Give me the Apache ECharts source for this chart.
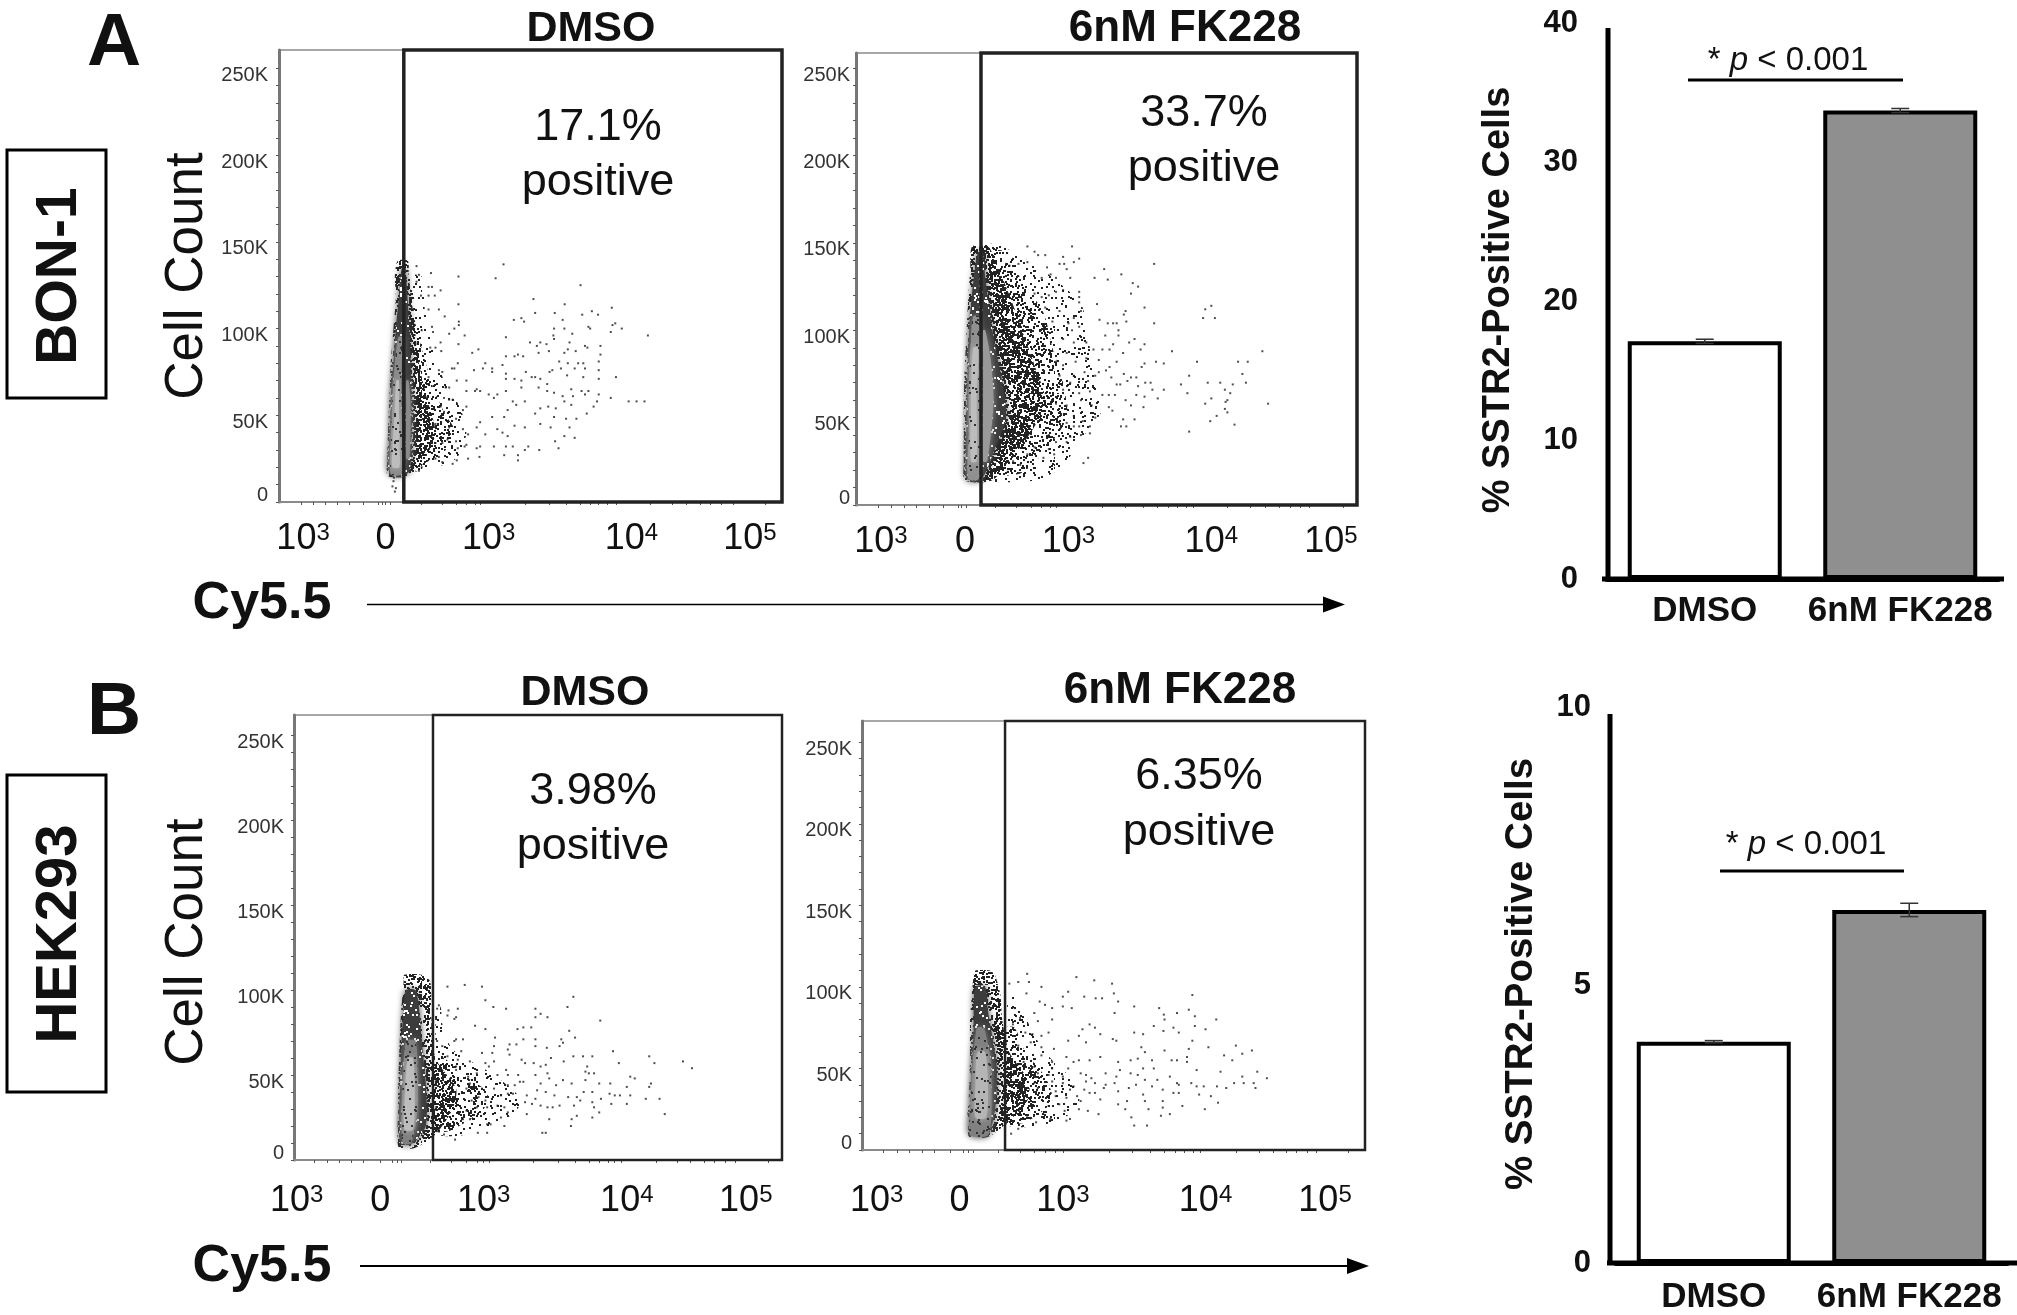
<!DOCTYPE html>
<html><head><meta charset="utf-8">
<style>html,body{margin:0;padding:0;background:#fff}#c{width:2017px;height:1315px}</style>
<script src="https://cdn.jsdelivr.net/npm/echarts@6/dist/echarts.min.js"></script>
</head><body><div id="c"></div>
<script>
// ---- bar chart values
const barCategories = ['DMSO', '6nM FK228'];
const barFills = ['#ffffff', '#8f8f8f'];
const bon1Means = [17.1, 33.7];
const bon1Errors = [0.15, 0.15];
const hek293Means = [3.98, 6.35];
const hek293Errors = [0.02, 0.12];
// ---- flow plot tick labels (count axis in thousands; Cy5.5 axis in biexponential channels)
const countMajor = [0, 50, 100, 150, 200, 250];
const countTicks = [0,10,20,30,40,50,60,70,80,90,100,110,120,130,140,150,160,170,180,190,200,210,220,230,240,250];
const cy55Labels = ['{b|10}{s|3}', '{b|0}', '{b|10}{s|3}', '{b|10}{s|4}', '{b|10}{s|5}'];
// ---- Cy5.5 scale of each plot: channel limits, gate, ticks, label anchors
const limA1 = [55, 1518], gateA1 = 418, topA1 = 260.6;
const limA2 = [100, 1503], gateA2 = 450, topA2 = 258.7;
const limB1 = [100, 1515], gateB1 = 503, topB1 = 261.8;
const limB2 = [117, 1527], gateB2 = 518, topB2 = 263;
const ticksA1 = [120,155,190,225,260,300,345,355,365,380,470,530,570,600,625,640,770,840,890,930,960,985,1010,1035,1135,1200,1240,1280,1310,1340,1375,1470];
const ticksA2 = [162,200,235,270,305,345,385,395,410,490,550,590,620,645,660,790,855,905,945,975,1000,1025,1045,1140,1205,1245,1285,1315,1345,1370,1465];
const ticksB1 = [160,195,230,265,300,350,385,400,410,495,555,600,630,650,665,795,865,915,955,985,1010,1030,1050,1150,1210,1250,1290,1320,1350,1380,1475];
const ticksB2 = [177,215,250,285,320,365,400,415,430,500,560,600,630,660,680,810,875,925,965,995,1020,1045,1065,1165,1230,1270,1305,1335,1365,1390,1480];
const labelPosA1 = [125, 365, 665, 1080, 1425];
const labelPosA2 = [170, 405, 695, 1095, 1430];
const labelPosB1 = [108, 350, 650, 1065, 1410];
const labelPosB2 = [158, 390, 680, 1080, 1415];

// ---- individually visible events [channel, count K]
const pointsA1 = [[708,137],[685,129],[577,130],[497,132],[455,136],[462,131],[455,127],[490,124],[500,124],[525,122],[468,119],[490,119],[508,119],[795,117],[932,125],[886,114],[577,114],[1023,112],[965,110],[937,108],[983,108],[857,109],[800,109],[520,111],[490,111],[537,107],[578,104],[738,105],[760,106],[768,104],[880,105],[1033,103],[1025,102],[578,102],[565,100],[550,97],[595,96],[855,100],[885,100],[955,101],[960,100],[1020,98],[1052,100],[1128,96],[908,97],[853,96],[855,94],[715,95],[785,92],[815,92],[833,91],[900,92],[525,92],[500,101],[503,98],[470,99],[577,91],[495,89],[510,89],[527,87],[635,88],[617,86],[750,85],[765,84],[715,84],[740,84],[805,90],[810,86],[840,87],[895,88],[885,86],[945,90],[952,89],[990,90],[918,87],[990,85],[575,80],[565,77],[558,77],[655,80],[648,77],[622,76],[675,77],[675,75],[705,79],[870,81],[895,80],[925,80],[940,80],[985,81],[850,76],[842,75],[875,77],[915,77],[945,77],[985,76],[773,75],[715,74],[715,71],[790,72],[800,72],[815,71],[740,71],[760,70],[893,73],[940,72],[985,71],[1035,72],[600,70],[572,70],[520,76],[530,75],[490,72],[550,66],[540,66],[630,65],[625,64],[600,64],[640,64],[665,62],[690,62],[680,60],[715,64],[760,66],[810,66],[835,68],[835,64],[855,63],[880,61],[905,65],[910,61],[935,64],[945,62],[955,64],[985,62],[1020,60],[1072,58],[1095,58],[1118,58],[980,58],[970,55],[905,56],[885,58],[860,54],[838,55],[815,54],[800,51],[770,58],[735,58],[745,56],[720,53],[710,49],[675,49],[640,46],[600,55],[590,53],[570,48],[535,60],[550,59],[560,59],[525,55],[535,52],[510,45],[950,51],[890,48],[920,48],[900,43],[855,49],[845,43],[815,45],[770,43],[740,44],[690,42],[705,40],[720,38],[655,39],[605,39],[590,42],[630,43],[550,43],[545,36],[570,35],[915,37],[885,38],[858,35],[868,31],[780,32],[770,30],[812,30],[735,32],[715,32],[680,32],[640,32],[630,31],[600,33],[595,32],[575,31],[530,34],[510,34],[500,37],[710,27],[750,27],[750,24],[638,26],[605,25],[572,24],[560,22],[530,23],[510,25],[520,26],[470,20],[462,18],[385,9],[392,6],[388,12],[395,8],[390,14],[380,15]];
const pointsA2 = [[580,148],[705,148],[600,145],[630,143],[610,143],[680,142],[670,138],[683,138],[725,141],[710,139],[580,139],[555,138],[520,138],[530,137],[635,136],[690,135],[795,135],[935,138],[843,132],[805,129],[768,130],[700,130],[645,132],[620,130],[660,130],[875,127],[890,125],[870,121],[725,122],[725,119],[725,116],[680,123],[660,122],[640,120],[620,119],[600,121],[775,115],[908,113],[855,111],[850,109],[1095,114],[1078,112],[1105,107],[1072,107],[935,104],[857,105],[782,106],[805,104],[820,104],[830,104],[695,104],[710,107],[650,105],[670,111],[630,113],[730,111],[835,100],[835,97],[798,97],[725,102],[705,100],[880,95],[865,93],[908,92],[745,93],[710,93],[680,95],[820,92],[765,89],[790,89],[810,89],[897,89],[848,87],[985,88],[1238,88],[940,82],[962,81],[1055,82],[1170,82],[1197,82],[908,81],[900,79],[830,82],[810,79],[780,83],[745,84],[715,82],[690,87],[660,82],[680,80],[850,75],[1182,75],[1033,74],[870,73],[885,73],[800,77],[780,76],[770,74],[740,76],[710,74],[670,74],[1010,69],[1085,70],[1120,70],[1155,69],[1192,70],[925,70],[910,70],[890,68],[860,71],[830,69],[840,69],[815,73],[750,71],[700,70],[1028,64],[1133,66],[1148,64],[962,66],[930,66],[885,63],[825,63],[808,63],[790,63],[755,65],[725,64],[680,66],[1095,61],[1078,58],[1140,60],[1135,59],[1254,58],[945,61],[908,62],[855,60],[870,57],[818,54],[808,56],[905,56],[760,57],[730,60],[690,57],[660,58],[1133,55],[1140,53],[1110,51],[1092,48],[1160,46],[880,49],[848,49],[770,50],[735,48],[710,51],[690,47],[1033,42],[842,45],[857,45],[755,45],[725,45],[710,45],[755,41],[730,40],[700,39],[690,36],[640,40],[660,36],[640,32],[600,33],[655,29],[625,27],[580,29],[750,27],[737,24],[560,23],[540,25],[520,24],[525,19],[470,18],[500,21]];
const pointsB1 = [[545,102],[595,103],[645,102],[655,94],[678,90],[715,89],[910,96],[893,90],[800,89],[815,86],[835,84],[800,84],[520,91],[515,89],[548,88],[575,89],[545,85],[570,84],[565,83],[988,82],[625,79],[655,77],[748,77],[765,78],[788,78],[898,76],[683,72],[915,72],[800,71],[765,71],[875,71],[880,69],[870,67],[725,68],[745,68],[800,67],[833,66],[570,71],[590,71],[565,70],[515,70],[680,67],[675,63],[645,63],[585,64],[530,67],[545,61],[1025,64],[910,61],[938,61],[965,61],[1130,61],[1145,57],[1228,58],[1254,54],[1042,57],[882,58],[845,60],[760,59],[770,57],[795,57],[815,55],[830,56],[725,62],[720,65],[575,59],[570,55],[570,53],[610,58],[630,51],[605,49],[655,57],[665,55],[680,58],[950,55],[945,52],[955,51],[970,51],[715,53],[690,50],[720,50],[750,50],[800,50],[835,51],[840,48],[880,47],[905,45],[945,47],[1075,49],[1088,48],[1017,45],[985,45],[1135,45],[1130,43],[1065,43],[860,44],[815,45],[805,41],[720,44],[740,44],[755,46],[765,46],[680,42],[645,42],[610,45],[600,42],[1015,39],[1030,38],[1045,38],[1075,38],[965,40],[940,40],[920,37],[895,37],[855,38],[830,40],[800,36],[775,38],[735,39],[720,39],[700,38],[655,35],[635,37],[615,35],[1120,36],[1160,36],[990,36],[965,34],[930,35],[912,32],[870,32],[850,31],[835,31],[815,32],[790,33],[770,34],[710,31],[690,32],[720,28],[775,27],[660,31],[630,31],[600,29],[1065,33],[1020,33],[970,31],[1175,27],[985,28],[965,25],[920,26],[905,24],[840,24],[700,25],[610,24],[590,24],[660,21],[670,21],[710,20],[903,20],[820,16],[830,16],[633,16],[660,16],[567,12],[535,15],[515,17]];
const pointsB2 = [[580,108],[718,106],[768,104],[818,102],[585,103],[555,103],[530,102],[620,100],[695,97],[680,94],[578,96],[740,94],[772,93],[790,93],[1043,95],[823,96],[835,91],[615,91],[630,89],[650,87],[680,88],[705,87],[880,88],[950,87],[545,87],[600,84],[825,84],[1000,84],[1033,86],[963,83],[1050,82],[1110,80],[965,80],[755,77],[770,75],[650,80],[610,79],[560,81],[540,77],[935,76],[1050,76],[1080,74],[990,75],[962,73],[735,74],[1005,72],[880,72],[905,71],[725,70],[785,71],[640,72],[620,70],[595,71],[575,72],[695,67],[745,66],[820,68],[830,67],[1043,67],[1165,64],[1088,63],[900,63],[1210,61],[1183,59],[1033,62],[965,61],[655,62],[620,63],[590,66],[555,64],[910,60],[1132,58],[1155,55],[1028,57],[1028,54],[985,55],[1000,55],[930,55],[890,56],[870,55],[835,54],[785,57],[755,55],[725,55],[690,57],[710,54],[650,54],[620,58],[905,50],[935,50],[1055,49],[1122,48],[1225,48],[840,49],[800,47],[745,46],[730,47],[695,50],[650,50],[600,51],[570,54],[1252,44],[1183,45],[980,45],[890,46],[870,47],[830,45],[760,44],[680,45],[640,46],[610,47],[1160,41],[1187,41],[1215,41],[1040,41],[1000,41],[945,43],[910,43],[885,40],[825,41],[800,40],[770,41],[745,42],[710,39],[680,41],[650,42],[600,41],[1220,38],[1138,38],[1112,39],[1075,39],[1055,39],[1005,40],[930,39],[865,38],[795,38],[740,37],[700,37],[660,36],[610,38],[1062,34],[1005,35],[990,35],[960,37],[905,34],[835,36],[770,35],[755,35],[720,33],[690,32],[660,33],[640,33],[1095,33],[1115,29],[960,30],[910,30],[860,30],[835,28],[785,31],[730,30],[670,28],[640,27],[1015,27],[1078,25],[920,25],[855,25],[725,25],[780,22],[750,24],[685,24],[960,26],[980,22],[955,21],[872,20],[700,19],[645,19],[690,18],[605,17],[580,21],[880,15],[916,15],[555,13],[535,10]];

// ---- density outlines: rows of [count K, left channel, right channel]
const sparseA1 = [[18,430,470],[25,430,570],[40,430,600],[55,430,580],[70,430,535],[85,430,510],[110,430,480],[130,425,470]];
const mediumA1 = [[20,425,455],[30,430,540],[40,430,570],[50,430,540],[65,430,505],[85,430,475],[105,430,450],[125,420,440]];
const denseA1 = [[15,372,430],[25,370,480],[40,372,510],[60,376,485],[80,380,462],[100,388,450],[118,395,440],[130,392,432],[139,400,430]];
const solidA1 = [[17,375,432],[40,378,440],[60,380,440],[80,388,438],[100,395,434],[120,405,428],[135,412,422]];
const coreA1 = [[16,380,412],[30,380,415],[60,385,410],[80,392,412],[95,402,414]];
const lightA1 = [[20,385,405],[30,385,406],[55,392,404],[70,396,404]];
const core2A1 = [[25,425,435],[55,425,438],[70,425,432]];

const sparseA2 = [[14,460,600],[22,460,680],[35,460,720],[55,460,790],[75,460,770],[95,460,750],[115,460,730],[135,460,620],[145,460,530]];
const mediumA2 = [[18,455,560],[30,455,625],[50,455,690],[70,455,680],[90,455,650],[110,455,625],[130,455,560],[148,450,520]];
const denseA2 = [[14,405,480],[25,402,530],[45,402,600],[60,402,630],[80,405,600],[100,410,565],[120,415,530],[135,420,500],[148,425,470]];
const solidA2 = [[15,410,452],[30,408,485],[50,410,520],[70,412,510],[90,415,490],[110,420,475],[130,430,462],[145,442,455]];
const coreA2 = [[15,414,444],[40,416,446],[70,416,446],[95,422,446],[108,428,445]];
const lightA2 = [[25,422,438],[60,422,438],[90,428,442]];
const core2A2 = [[25,456,468],[60,456,485],[85,456,476],[100,456,462]];

const sparseB1 = [[15,510,600],[25,510,720],[35,510,760],[50,510,680],[65,510,560],[80,510,530],[90,510,525]];
const mediumB1 = [[17,505,550],[30,505,650],[40,505,660],[50,505,590],[60,505,535]];
const denseB1 = [[7,405,450],[15,400,510],[30,402,560],[42,402,570],[60,405,510],[85,410,498],[105,418,495],[109,420,470]];
const solidB1 = [[10,410,445],[20,405,482],[45,408,482],[70,412,470],[90,418,462],[100,425,452]];
const coreB1 = [[10,415,440],[30,412,458],[55,418,458],[70,425,452]];
const lightB1 = [[18,420,445],[40,422,450],[60,430,445]];

const sparseB2 = [[15,525,620],[25,525,720],[40,525,720],[55,525,650],[70,525,600],[85,525,570],[100,522,545]];
const mediumB2 = [[17,520,575],[30,520,650],[45,520,630],[60,520,575],[75,520,545]];
const denseB2 = [[8,418,470],[18,412,530],[30,416,580],[42,418,585],[60,420,530],[80,420,510],[95,425,505],[107,430,490],[110,435,475]];
const solidB2 = [[10,420,470],[25,420,490],[50,425,495],[70,430,482],[85,430,470],[100,435,462]];
const coreB2 = [[9,420,470],[25,420,480],[55,428,478],[70,435,465],[75,440,458]];
const lightB2 = [[20,435,465],[40,435,470],[60,440,462]];

// ---- speckle textures used to fill the density outlines (fixed, deterministic tile)
function speckle(count, colour, seed) {
  const w = 211, h = 197;
  const c = document.createElement('canvas'); c.width = w; c.height = h;
  const g = c.getContext('2d'); g.fillStyle = colour;
  let s = seed >>> 0;
  const next = () => { s ^= s << 13; s >>>= 0; s ^= s >>> 17; s ^= s << 5; s >>>= 0; return s; };
  for (let i = 0; i < count; i++) {
    g.fillRect(next() % w, next() % h, 2, 2);
  }
  return { image: c, repeat: 'repeat' };
}
const fillSparse = speckle(1300, '#222', 2463534242);
const fillMedium = speckle(3000, '#222', 88172645);
const fillDense = speckle(7000, '#222', 521288629);
const fillWhite = speckle(1000, '#fff', 362436069);
const fillFlecks = speckle(1000, '#333', 123456789);

const FONT = '"Liberation Sans", Arial, sans-serif';
const grids = [], xAxes = [], yAxes = [], series = [];

function flowPlot(box, lim, top, gate, gateWidth, ticks, labelPos, margin, yMargin, points, layers) {
  const i = grids.length;
  grids.push({ left: box[0], top: box[1], width: box[2] - box[0], height: box[3] - box[1], show: true,
    borderColor: '#8a8a8a', borderWidth: 1.5, backgroundColor: '#fff' });
  xAxes.push({ type: 'value', gridIndex: i, min: lim[0], max: lim[1], splitLine: { show: false },
    axisLine: { show: true, onZero: false, lineStyle: { color: '#8a8a8a', width: 2 } },
    axisTick: { show: true, length: 3, customValues: ticks, lineStyle: { color: '#555', width: 1 } },
    axisLabel: { show: true, customValues: labelPos, margin: margin, hideOverlap: false,
      formatter: v => cy55Labels[labelPos.indexOf(v)],
      rich: { b: { fontFamily: FONT, fontSize: 36, color: '#111' },
              s: { fontFamily: FONT, fontSize: 24, color: '#111', padding: [0, 0, 13, 0] } } } });
  yAxes.push({ type: 'value', gridIndex: i, min: 0, max: top, splitLine: { show: false },
    axisLine: { show: true, onZero: false, lineStyle: { color: '#777', width: 3 } },
    axisTick: { show: true, length: 3, customValues: countTicks, lineStyle: { color: '#555', width: 1 } },
    axisLabel: { show: true, customValues: countMajor, margin: yMargin, hideOverlap: false,
      formatter: v => v === 0 ? '{z|0}' : '{n|' + v + 'K}',
      rich: { n: { fontFamily: FONT, fontSize: 20, color: '#333', padding: [14, 0, 0, 0] },
              z: { fontFamily: FONT, fontSize: 20, color: '#333', padding: [0, 0, 14, 0] } } } });
  layers.forEach(([rows, fill]) => {
    const solid = typeof fill === 'string';
    series.push({ type: 'custom', xAxisIndex: i, yAxisIndex: i, data: [0], silent: true, z: 2,
      renderItem: (p, api) => {
        const pts = rows.map(r => api.coord([r[1], r[0]])).concat(rows.slice().reverse().map(r => api.coord([r[2], r[0]])));
        return { type: 'polygon', shape: { points: pts, smooth: 0.25 },
          style: solid ? { fill: fill, shadowBlur: 7, shadowColor: fill } : { fill: fill } };
      } });
  });
  series.push({ type: 'scatter', xAxisIndex: i, yAxisIndex: i, data: points, symbol: 'rect', symbolSize: 2,
    itemStyle: { color: '#222' }, silent: true, z: 3 });
  series.push({ type: 'custom', xAxisIndex: i, yAxisIndex: i, data: [[gate, top]], silent: true, z: 4, clip: false,
    renderItem: (p, api) => {
      const a = api.coord([gate, top]), b = api.coord([lim[1], 0]);
      return { type: 'rect', shape: { x: a[0], y: a[1], width: b[0] - a[0], height: b[1] - a[1] },
        style: { fill: 'none', stroke: '#222', lineWidth: gateWidth } };
    } });
}

function barPlot(box, yMax, yInterval, labelMargin, xMargin, means, errors) {
  const i = grids.length;
  grids.push({ left: box[0], top: box[1], width: box[2] - box[0], height: box[3] - box[1] });
  xAxes.push({ type: 'category', gridIndex: i, data: barCategories,
    axisLine: { show: true, lineStyle: { color: '#000', width: 5 } }, axisTick: { show: false },
    axisLabel: { margin: xMargin, fontFamily: FONT, fontWeight: 'bold', fontSize: 35, color: '#111', interval: 0 } });
  yAxes.push({ type: 'value', gridIndex: i, min: 0, max: yMax, interval: yInterval, splitLine: { show: false },
    axisLine: { show: false }, axisTick: { show: false },
    axisLabel: { margin: labelMargin, fontFamily: FONT, fontWeight: 'bold', fontSize: 31, color: '#111' } });
  series.push({ type: 'bar', xAxisIndex: i, yAxisIndex: i, barWidth: 154, silent: true, z: 2,
    data: means.map((v, k) => ({ value: v, itemStyle: { color: barFills[k], borderColor: '#000', borderWidth: 4 } })) });
  series.push({ type: 'custom', xAxisIndex: i, yAxisIndex: i, silent: true, z: 5,
    data: means.map((v, k) => [k, v - errors[k], v + errors[k]]),
    encode: { x: 0, y: [1, 2] },
    renderItem: (p, api) => {
      const lo = api.coord([api.value(0), api.value(1)]), hi = api.coord([api.value(0), api.value(2)]);
      const st = { stroke: '#333', lineWidth: 1.5, fill: 'none' };
      return { type: 'group', children: [
        { type: 'line', shape: { x1: lo[0], y1: lo[1], x2: hi[0], y2: hi[1] }, style: st },
        { type: 'line', shape: { x1: lo[0] - 9, y1: lo[1], x2: lo[0] + 9, y2: lo[1] }, style: st },
        { type: 'line', shape: { x1: hi[0] - 9, y1: hi[1], x2: hi[0] + 9, y2: hi[1] }, style: st } ] };
    } });
}

flowPlot([279, 50, 782, 502], limA1, topA1, gateA1, 3.5, ticksA1, labelPosA1, 19, 11, pointsA1,
  [[sparseA1, fillSparse], [mediumA1, fillMedium], [denseA1, fillDense], [solidA1, '#3c3c3c'], [solidA1, fillWhite], [coreA1, '#8a8a8a'], [lightA1, '#bdbdbd'], [core2A1, '#8a8a8a'], [coreA1, fillFlecks]]);
flowPlot([856, 53, 1357, 505], limA2, topA2, gateA2, 3.5, ticksA2, labelPosA2, 19, 6, pointsA2,
  [[sparseA2, fillSparse], [mediumA2, fillMedium], [denseA2, fillDense], [solidA2, '#3c3c3c'], [solidA2, fillWhite], [coreA2, '#909090'], [lightA2, '#bdbdbd'], [core2A2, '#999'], [coreA2, fillFlecks]]);
flowPlot([294, 715, 782, 1160], limB1, topB1, gateB1, 2.5, ticksB1, labelPosB1, 23, 10, pointsB1,
  [[sparseB1, fillSparse], [mediumB1, fillMedium], [denseB1, fillDense], [solidB1, '#3c3c3c'], [solidB1, fillWhite], [coreB1, '#808080'], [lightB1, '#bdbdbd'], [coreB1, fillFlecks]]);
flowPlot([862, 721, 1365, 1150], limB2, topB2, gateB2, 2.5, ticksB2, labelPosB2, 33, 10, pointsB2,
  [[sparseB2, fillSparse], [mediumB2, fillMedium], [denseB2, fillDense], [solidB2, '#3c3c3c'], [solidB2, fillWhite], [coreB2, '#808080'], [lightB2, '#b5b5b5'], [coreB2, fillFlecks]]);
barPlot([1607, 23, 1998, 579], 40, 10, 29, 15, bon1Means, bon1Errors);
barPlot([1616, 707, 2007, 1263], 10, 5, 25, 17, hek293Means, hek293Errors);

function txt(x, y, text, size, bold, rot) {
  return { type: 'text', x: x, y: y + (rot ? 0 : 3), rotation: rot || 0, z: 20,
    style: { text: text, fill: '#111', align: 'center', verticalAlign: 'middle',
      font: (bold ? 'bold ' : '') + size + 'px ' + FONT } };
}
function pval(x, y) {
  return { type: 'text', x: x, y: y + 3, z: 20, style: { text: '{a|* }{i|p}{a| < 0.001}', align: 'center', verticalAlign: 'middle',
    rich: { a: { font: '33px ' + FONT, fill: '#111' }, i: { font: 'italic 33px ' + FONT, fill: '#111' } } } };
}
function ln(x1, y1, x2, y2, w) {
  return { type: 'line', z: 20, shape: { x1, y1, x2, y2 }, style: { stroke: '#000', lineWidth: w } };
}
function head(x, y) {
  return { type: 'polygon', z: 20, shape: { points: [[x, y], [x - 22, y - 8], [x - 22, y + 8]] }, style: { fill: '#000' } };
}
const R = Math.PI / 2;
const graphic = [
  txt(114, 41, 'A', 75, true), txt(114, 710, 'B', 75, true),
  { type: 'rect', z: 20, shape: { x: 7, y: 150, width: 99, height: 248 }, style: { fill: 'none', stroke: '#000', lineWidth: 3 } },
  { type: 'rect', z: 20, shape: { x: 7, y: 775, width: 99, height: 317 }, style: { fill: 'none', stroke: '#000', lineWidth: 3 } },
  txt(60, 276, 'BON-1', 57, true, R), txt(60, 934, 'HEK293', 58, true, R),
  txt(187, 276, 'Cell Count', 53, false, R), txt(187, 942, 'Cell Count', 53, false, R),
  txt(591, 26, 'DMSO', 43, true), txt(1185, 26, '6nM FK228', 44, true),
  txt(585, 690, 'DMSO', 43, true), txt(1180, 688, '6nM FK228', 44, true),
  txt(598, 125, '17.1%', 45), txt(598, 180, 'positive', 45),
  txt(1204, 111, '33.7%', 45), txt(1204, 166, 'positive', 45),
  txt(593, 789, '3.98%', 45), txt(593, 844, 'positive', 45),
  txt(1199, 774, '6.35%', 45), txt(1199, 830, 'positive', 45),
  txt(262, 601, 'Cy5.5', 52, true), txt(262, 1264, 'Cy5.5', 52, true),
  ln(367, 604.5, 1330, 604.5, 1.5), head(1345, 604.5), ln(360, 1266, 1350, 1266, 2), head(1369, 1266),
  txt(1499, 300, '% SSTR2-Positive Cells', 38, true, R), txt(1521, 974, '% SSTR2-Positive Cells', 38.5, true, R),
  pval(1788, 58), ln(1688, 80, 1903, 80, 3), pval(1806, 842), ln(1720, 871, 1904, 871, 3),
  ln(1608, 28, 1608, 581, 5), ln(1602, 579, 2004, 579, 5),
  ln(1610, 714, 1610, 1265, 5), ln(1607, 1263, 2017, 1263, 5)
];

const chart = echarts.init(document.getElementById('c'), null, { renderer: 'canvas' });
chart.setOption({ animation: false, backgroundColor: '#fff', grid: grids, xAxis: xAxes, yAxis: yAxes, series: series, graphic: graphic });
</script></body></html>
